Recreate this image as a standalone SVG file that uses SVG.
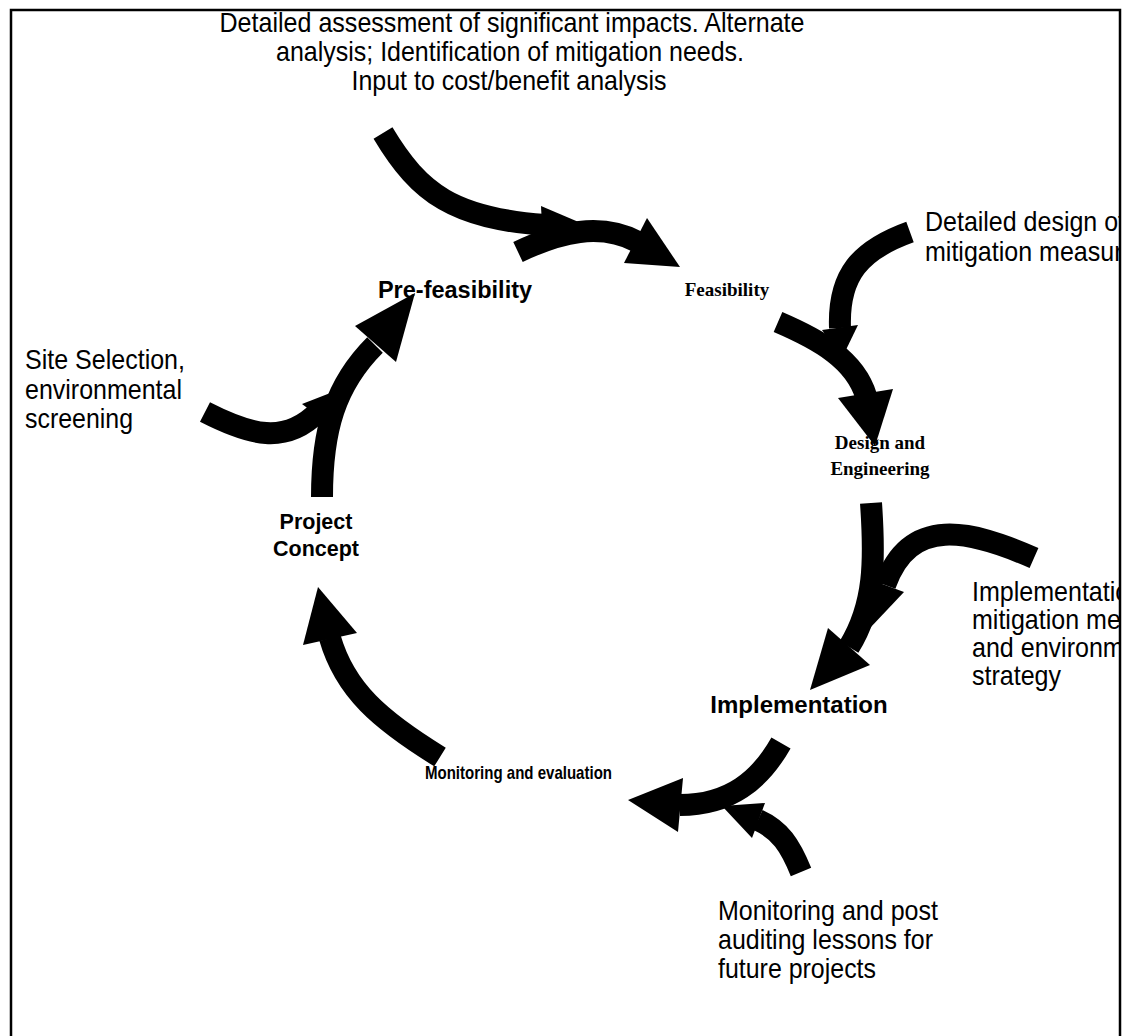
<svg xmlns="http://www.w3.org/2000/svg" width="1126" height="1036" viewBox="0 0 1126 1036">
<defs>
<style>
.shaft{fill:none;stroke:#000;stroke-width:22;stroke-linecap:butt}
.head{fill:#000;stroke:none}
.note{font-family:"Liberation Sans Narrow","Liberation Sans",Arial,sans-serif;font-size:28px;fill:#000}
.lab{font-family:"Liberation Sans",Arial,sans-serif;font-weight:bold;fill:#000}
.ser{font-family:"Liberation Serif","Times New Roman",serif;font-weight:bold;font-size:19px;fill:#000}
</style>
<clipPath id="frame"><rect x="0" y="0" width="1119" height="1036"/></clipPath>
</defs>
<rect x="0" y="0" width="1126" height="1036" fill="#fff"/>
<path d="M11,1036 V10 H1120 V1036" fill="none" stroke="#000" stroke-width="2.5"/>

<g id="connectors">
  <path class="shaft" d="M383,133 C420,195 455,218 545,225"/>
  <polygon class="head" points="541,206 595,229 543,246"/>
  <path class="shaft" d="M518,252 C560,232 600,222 638,242"/>
  <polygon class="head" points="647,218 680,267 624,263"/>
  <path class="shaft" d="M910,232 C860,250 838,275 840,328"/>
  <polygon class="head" points="822,330 858,325 842,358"/>
  <path class="shaft" d="M778,322 C820,340 855,360 866,396"/>
  <polygon class="head" points="838,398 893,389 875,446"/>
  <path class="shaft" d="M1034,558 C970,530 910,515 885,585"/>
  <polygon class="head" points="866,578 904,592 870,628"/>
  <path class="shaft" d="M871,503 C875,560 875,605 849,647"/>
  <polygon class="head" points="828,628 870,665 810,690"/>
  <path class="shaft" d="M801,872 C790,845 780,830 758,820"/>
  <polygon class="head" points="765,803 752,838 722,806"/>
  <path class="shaft" d="M781,743 C760,780 730,805 680,805"/>
  <polygon class="head" points="683,778 678,832 628,800"/>
  <path class="shaft" d="M440,757 C380,720 345,690 330,638"/>
  <polygon class="head" points="303,645 357,633 318,587"/>
  <path class="shaft" d="M205,412 C250,435 285,445 318,412"/>
  <polygon class="head" points="302,404 330,425 338,390"/>
  <path class="shaft" d="M322,497 C322,430 335,385 375,345"/>
  <polygon class="head" points="355,326 396,362 415,293"/>
</g>

<g id="note-assessment">
  <text class="note" text-anchor="middle" x="512" y="32" textLength="585" lengthAdjust="spacingAndGlyphs">Detailed assessment of significant impacts. Alternate</text>
  <text class="note" text-anchor="middle" x="510" y="61" textLength="468" lengthAdjust="spacingAndGlyphs">analysis; Identification of mitigation needs.</text>
  <text class="note" text-anchor="middle" x="509" y="90" textLength="315" lengthAdjust="spacingAndGlyphs">Input to cost/benefit analysis</text>
</g>
<g id="node-prefeasibility">
  <text class="lab" font-size="23.5" text-anchor="middle" x="455" y="298">Pre-feasibility</text>
</g>
<g id="node-feasibility">
  <text class="ser" font-size="18" text-anchor="middle" x="727" y="296">Feasibility</text>
</g>
<g id="note-design" clip-path="url(#frame)">
  <text class="note" x="925" y="231" textLength="200" lengthAdjust="spacingAndGlyphs">Detailed design of</text>
  <text class="note" x="925" y="261" textLength="224" lengthAdjust="spacingAndGlyphs">mitigation measures</text>
</g>
<g id="note-site">
  <text class="note" x="25" y="369" textLength="160" lengthAdjust="spacingAndGlyphs">Site Selection,</text>
  <text class="note" x="25" y="399" textLength="157" lengthAdjust="spacingAndGlyphs">environmental</text>
  <text class="note" x="25" y="428" textLength="108" lengthAdjust="spacingAndGlyphs">screening</text>
</g>
<g id="node-design">
  <text class="ser" text-anchor="middle" x="880" y="449">Design and</text>
  <text class="ser" text-anchor="middle" x="880" y="475">Engineering</text>
</g>
<g id="node-project">
  <text class="lab" font-size="21.5" text-anchor="middle" x="316" y="529">Project</text>
  <text class="lab" font-size="21.5" text-anchor="middle" x="316" y="556">Concept</text>
</g>
<g id="note-implementation" clip-path="url(#frame)">
  <text class="note" x="972" y="601" textLength="199" lengthAdjust="spacingAndGlyphs">Implementation of</text>
  <text class="note" x="972" y="629" textLength="224" lengthAdjust="spacingAndGlyphs">mitigation measures</text>
  <text class="note" x="972" y="657" textLength="206" lengthAdjust="spacingAndGlyphs">and environmental</text>
  <text class="note" x="972" y="685" textLength="89" lengthAdjust="spacingAndGlyphs">strategy</text>
</g>
<g id="node-implementation">
  <text class="lab" font-size="24" text-anchor="middle" x="799" y="713">Implementation</text>
</g>
<g id="node-monitoring">
  <text class="lab" font-size="19" x="425" y="779" textLength="187" lengthAdjust="spacingAndGlyphs">Monitoring and evaluation</text>
</g>
<g id="note-monitoring">
  <text class="note" x="718" y="920" textLength="220" lengthAdjust="spacingAndGlyphs">Monitoring and post</text>
  <text class="note" x="718" y="949" textLength="215" lengthAdjust="spacingAndGlyphs">auditing lessons for</text>
  <text class="note" x="718" y="978" textLength="158" lengthAdjust="spacingAndGlyphs">future projects</text>
</g>
</svg>
